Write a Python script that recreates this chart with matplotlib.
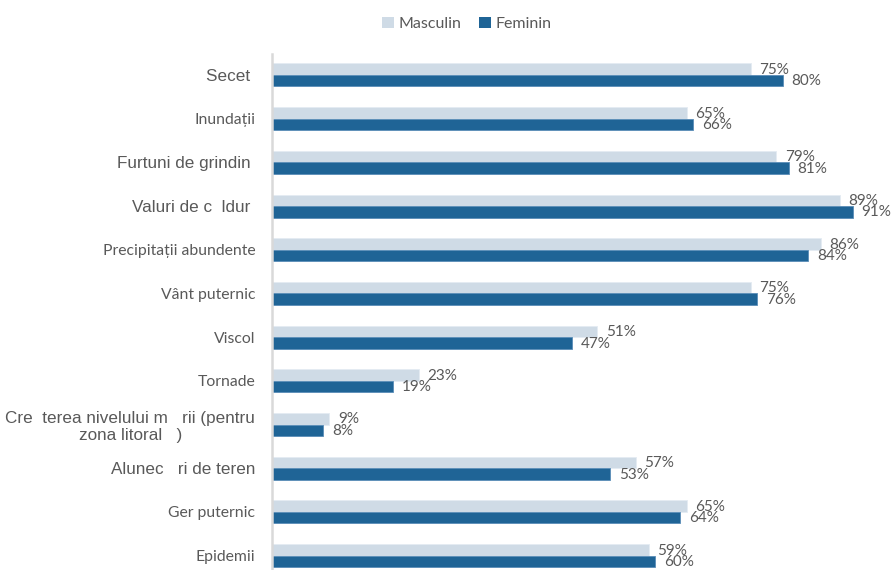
import matplotlib.pyplot as plt
from matplotlib.patches import Patch

# Data: share of respondents (%) by hazard and gender
categories = [
    'Secet ', 'Inundații', 'Furtuni de grindin ', 'Valuri de c  ldur ',
    'Precipitații abundente', 'Vânt puternic', 'Viscol', 'Tornade',
    'Cre  terea nivelului m   rii (pentru\nzona litoral   )', 'Alunec   ri de teren',
    'Ger puternic', 'Epidemii',
]
masculin = [75, 65, 79, 89, 86, 75, 51, 23, 9, 57, 65, 59]
feminin = [80, 66, 81, 91, 84, 76, 47, 19, 8, 53, 64, 60]

# labels that were rendered in the larger Arial-like face
arial_labels = {'Secet ', 'Furtuni de grindin ', 'Valuri de c  ldur ',
                'Cre  terea nivelului m   rii (pentru\nzona litoral   )',
                'Alunec   ri de teren'}

light = '#CFDBE6'
dark = '#1F6496'
text_color = '#595959'

fig = plt.figure(figsize=(8.91, 5.70), dpi=100)
ax = fig.add_axes([272 / 891, 0, 1 - 272 / 891, 1 - 54 / 570])

y = list(range(len(categories)))
h = 0.263
y_m = [i - h / 2 for i in y]
y_f = [i + h / 2 for i in y]

ax.barh(y_m, masculin, height=h, color=light, edgecolor='#E4EBF2', linewidth=0.6)
ax.barh(y_f, feminin, height=h, color=dark, edgecolor='#5A8DB8', linewidth=0.6)

for v, yy in zip(masculin, y_m):
    ax.annotate(f'{v}%', (v, yy), xytext=(6.3, -0.5), textcoords='offset points',
                va='center', ha='left', fontsize=11, family='Lato', color=text_color)
for v, yy in zip(feminin, y_f):
    ax.annotate(f'{v}%', (v, yy), xytext=(6.3, -0.5), textcoords='offset points',
                va='center', ha='left', fontsize=11, family='Lato', color=text_color)

ax.set_xlim(0, 97)
ax.set_ylim(11.33, -0.48)
ax.set_xticks([])
ax.set_yticks(y)
ax.set_yticklabels(categories)
ax.tick_params(axis='y', length=0, pad=12)
for lab in ax.get_yticklabels():
    lab.set_color(text_color)
    if lab.get_text() in arial_labels:
        lab.set_fontfamily('Liberation Sans')
        lab.set_fontsize(12.3)
    else:
        lab.set_fontfamily('Lato')
        lab.set_fontsize(11.3)
    lab.set_multialignment('center')

for s in ['top', 'right', 'bottom']:
    ax.spines[s].set_visible(False)
ax.spines['left'].set_color('#D9D9D9')
ax.spines['left'].set_linewidth(1.8)

handles = [Patch(facecolor=light, edgecolor='none', label='Masculin'),
           Patch(facecolor=dark, edgecolor='none', label='Feminin')]
leg = fig.legend(handles=handles, loc='center', bbox_to_anchor=(0.524, 0.958),
                 ncol=2, frameon=False, handlelength=0.75, handleheight=0.75,
                 handletextpad=0.3, columnspacing=1.1,
                 prop={'family': 'Lato', 'size': 11.5})
for t in leg.get_texts():
    t.set_color(text_color)

fig.savefig('out.png', dpi=100, facecolor='white')
